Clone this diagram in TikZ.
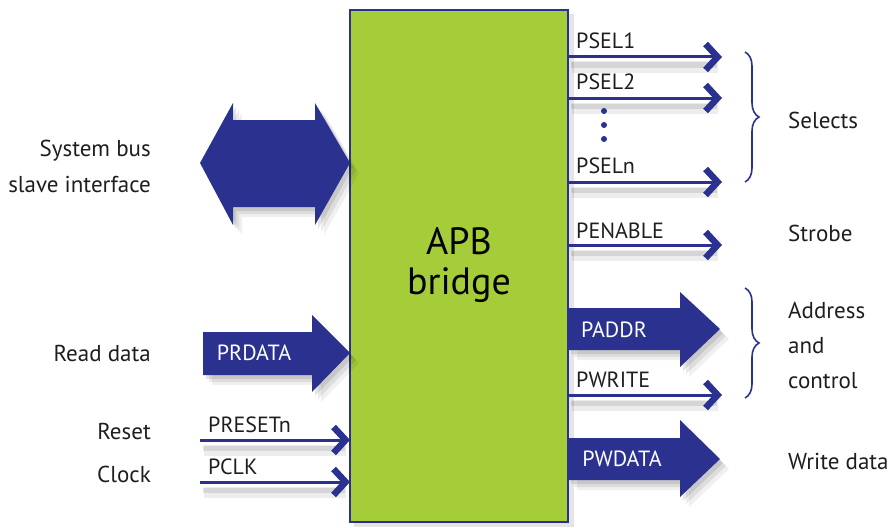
\documentclass[tikz,border=0pt]{standalone}
\usepackage{fontspec}
\setmainfont{PT Sans}
\usetikzlibrary{arrows.meta,decorations.pathreplacing}

\definecolor{apbgreen}{RGB}{165,205,58}
\definecolor{apbblue}{RGB}{43,49,143}
\definecolor{txt}{RGB}{30,30,30}

\begin{document}
\begin{tikzpicture}[x=1pt,y=-1pt,
  lbl/.style={font=\fontsize{23}{26}\selectfont, text=txt, inner sep=0pt},
  sigtxt/.style={font=\fontsize{22}{24}\selectfont, text=txt, inner sep=0pt, anchor=south west},
  bustxt/.style={font=\fontsize{22}{24}\selectfont, text=white, inner sep=0pt},
  fatshade/.style={
    preaction={fill=black, opacity=0.10, transform canvas={shift={(3pt,-4pt)}}},
    preaction={fill=black, opacity=0.08, transform canvas={shift={(6pt,-7pt)}}},
    preaction={fill=black, opacity=0.06, transform canvas={shift={(9pt,-10pt)}}}},
  lineshade/.style={
    preaction={draw=black, -, line width=5pt, opacity=0.10, shorten >=8pt, transform canvas={shift={(3pt,-8pt)}}},
    preaction={draw=black, -, line width=11pt, opacity=0.07, shorten >=8pt, transform canvas={shift={(4pt,-10pt)}}}},
  sig/.style={lineshade, draw=apbblue, line width=3pt,
    -{Straight Barb[length=12pt,width=26pt,line width=6.5pt]}},
  bus/.style={fatshade, fill=apbblue},
  curly/.style={draw=apbblue, line width=1.6pt,
    decorate, decoration={brace, amplitude=14pt}}]

\useasboundingbox (0,0) rectangle (888,527);

% ---- block ----
\fill[black, opacity=0.10] (354,14) rectangle (574,527);
\node[draw=apbblue, fill=apbgreen, line width=2.5pt, minimum width=218pt,
      minimum height=512pt, inner sep=0pt, outer sep=0pt] (bridge) at (459,266) {};
\node[font=\fontsize{38}{40}\selectfont, text=black, align=center, inner sep=0pt]
  (title) at (459,265) {APB\\bridge};

% ---- system bus (bidirectional) ----
\path[bus] (200,163) -- (233,103) -- (233,120) -- (315,120) -- (315,103) -- (350,163)
  -- (315,225) -- (315,207) -- (233,207) -- (233,225) -- cycle;

% ---- PRDATA ----
\path[bus] (203,332) -- (312,332) -- (312,315) -- (350,353) -- (312,392)
  -- (312,375) -- (203,375) -- cycle;
\node[bustxt] (prdata) at (254,353) {PRDATA};

% ---- PADDR ----
\path[bus] (568,308) -- (680,308) -- (680,292) -- (720,329) -- (680,367)
  -- (680,350) -- (568,350) -- cycle;
\node[bustxt] (paddr) at (614,330) {PADDR};

% ---- PWDATA ----
\path[bus] (568,438) -- (680,438) -- (680,420) -- (720,459) -- (680,497)
  -- (680,480) -- (568,480) -- cycle;
\node[bustxt] (pwdata) at (622,459) {PWDATA};

% ---- single signal ends ----
\coordinate (e1) at (722,57);
\coordinate (e2) at (722,98);
\coordinate (en) at (722,182);
\coordinate (ee) at (722,245);
\coordinate (ew) at (722,395);
\coordinate (sr) at (200,440);
\coordinate (sc) at (200,482);

\draw[sig] (bridge.east |- e1) -- (e1);
\draw[sig] (bridge.east |- e2) -- (e2);
\draw[sig] (bridge.east |- en) -- (en);
\draw[sig] (bridge.east |- ee) -- (ee);
\draw[sig] (bridge.east |- ew) -- (ew);
\draw[sig] (sr) -- (bridge.west |- sr);
\draw[sig] (sc) -- (bridge.west |- sc);

\node[sigtxt] (psel1) at (576,49) {PSEL1};
\node[sigtxt] (psel2) at (576,90) {PSEL2};
\node[sigtxt] (pseln) at (576,174) {PSELn};
\node[sigtxt] (penable) at (576,239) {PENABLE};
\node[sigtxt] (pwrite) at (576,388) {PWRITE};
\node[sigtxt] (preset) at (208,433) {PRESETn};
\node[sigtxt] (pclk) at (208,475) {PCLK};

% ---- ellipsis between PSEL2 and PSELn ----
\fill[apbblue] (604,111) circle (3pt) coordinate (dota);
\fill[apbblue] (604,125) circle (3pt) coordinate (dotb);
\fill[apbblue] (604,139) circle (3pt) coordinate (dotc);

% ---- braces ----
\coordinate (b1t) at (745,52);
\coordinate (b1b) at (745,182);
\coordinate (b2t) at (745,288);
\coordinate (b2b) at (745,398);
\draw[curly] (b1t) -- (b1b);
\draw[curly] (b2t) -- (b2b);

% ---- group labels, right ----
\node[lbl, anchor=west] (selects) at (788,120) {Selects};
\node[lbl, anchor=west] (strobe) at (788,233) {Strobe};
\node[lbl, anchor=west, align=left, font=\fontsize{23}{35}\selectfont]
  (addr) at (788,345) {Address\\and\\control};
\node[lbl, anchor=west] (wdata) at (788,461) {Write data};

% ---- group labels, left ----
\node[lbl, anchor=east, align=right, font=\fontsize{23}{36}\selectfont]
  (sysbus) at (151,166) {System bus\\slave interface};
\node[lbl, anchor=east] (rdata) at (151,353) {Read data};
\node[lbl, anchor=east] (reset) at (151,431) {Reset};
\node[lbl, anchor=east] (clock) at (151,474) {Clock};

\end{tikzpicture}
\end{document}
